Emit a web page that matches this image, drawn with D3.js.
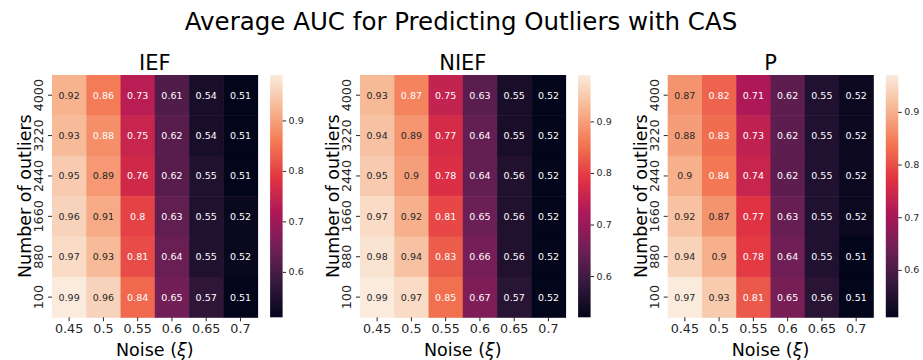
<!DOCTYPE html>
<html>
<head>
<meta charset="utf-8">
<script src="https://cdn.jsdelivr.net/npm/d3@7"></script>
<style>
  body { margin: 0; background: #fff; }
  svg { font-family: "DejaVu Sans", sans-serif; }
</style>
</head>
<body>
<svg id="chart" width="923" height="360"></svg>
<script>
// Data
const noiseLevels = ['0.45', '0.5', '0.55', '0.6', '0.65', '0.7'];
const outlierCounts = ['4000', '3220', '2440', '1660', '880', '100'];
const panelTitles = ['IEF', 'NIEF', 'P'];

const aucIEF = [
  [0.92, 0.86, 0.73, 0.61, 0.54, 0.51],
  [0.93, 0.88, 0.75, 0.62, 0.54, 0.51],
  [0.95, 0.89, 0.76, 0.62, 0.55, 0.51],
  [0.96, 0.91, 0.80, 0.63, 0.55, 0.52],
  [0.97, 0.93, 0.81, 0.64, 0.55, 0.52],
  [0.99, 0.96, 0.84, 0.65, 0.57, 0.51]
];
const aucNIEF = [
  [0.93, 0.87, 0.75, 0.63, 0.55, 0.52],
  [0.94, 0.89, 0.77, 0.64, 0.55, 0.52],
  [0.95, 0.90, 0.78, 0.64, 0.56, 0.52],
  [0.97, 0.92, 0.81, 0.65, 0.56, 0.52],
  [0.98, 0.94, 0.83, 0.66, 0.56, 0.52],
  [0.99, 0.97, 0.85, 0.67, 0.57, 0.52]
];
const aucP = [
  [0.87, 0.82, 0.71, 0.62, 0.55, 0.52],
  [0.88, 0.83, 0.73, 0.62, 0.55, 0.52],
  [0.90, 0.84, 0.74, 0.62, 0.55, 0.52],
  [0.92, 0.87, 0.77, 0.63, 0.55, 0.52],
  [0.94, 0.90, 0.78, 0.64, 0.55, 0.51],
  [0.97, 0.93, 0.81, 0.65, 0.56, 0.51]
];
const cbarTicks = [0.6, 0.7, 0.8, 0.9];

// seaborn "rocket" colormap, approximated by stops
const rocketStops = ['#03051a', '#35193e', '#701f57', '#ad1759', '#e13342', '#f37651', '#f6b48f', '#faebdd'];
const rocket = d3.scaleLinear()
  .domain(d3.range(rocketStops.length).map(i => i / (rocketStops.length - 1)))
  .range(rocketStops)
  .interpolate(d3.interpolateRgb);

function luminance(col) {
  const c = d3.rgb(col);
  const lin = v => {
    v = v / 255;
    return v <= 0.03928 ? v / 12.92 : Math.pow((v + 0.055) / 1.055, 2.4);
  };
  return 0.2126 * lin(c.r) + 0.7152 * lin(c.g) + 0.0722 * lin(c.b);
}

const svg = d3.select('#chart');
const textColor = '#262626';
const fontFam = '"DejaVu Sans", sans-serif';

// Suptitle
svg.append('text')
  .attr('x', 461)
  .attr('y', 30)
  .attr('text-anchor', 'middle')
  .attr('font-size', '24.5px')
  .attr('fill', '#000')
  .text('Average AUC for Predicting Outliers with CAS');

const panelLeft = [52, 360, 667.7];
const plotTop = 75, heatW = 205.6, heatH = 242.3;
const cbarGap = 12.5, cbarW = 12.5;
const datasets = [aucIEF, aucNIEF, aucP];

datasets.forEach((data, p) => {
  const g = svg.append('g').attr('transform', `translate(${panelLeft[p]},${plotTop})`);

  const x = d3.scaleBand().domain(noiseLevels).range([0, heatW]);
  const y = d3.scaleBand().domain(outlierCounts).range([0, heatH]);

  const flat = data.flat();
  const vmin = d3.min(flat), vmax = d3.max(flat);
  const color = v => rocket((v - vmin) / (vmax - vmin));

  const cells = [];
  data.forEach((row, i) => row.forEach((v, j) => cells.push({ row: outlierCounts[i], col: noiseLevels[j], v })));

  g.selectAll('rect.cell')
    .data(cells)
    .enter().append('rect')
    .attr('class', 'cell')
    .attr('x', d => x(d.col))
    .attr('y', d => y(d.row))
    .attr('width', x.bandwidth() + 0.5)
    .attr('height', y.bandwidth() + 0.5)
    .attr('fill', d => color(d.v));

  g.selectAll('text.annot')
    .data(cells)
    .enter().append('text')
    .attr('class', 'annot')
    .attr('x', d => x(d.col) + x.bandwidth() / 2)
    .attr('y', d => y(d.row) + y.bandwidth() / 2)
    .attr('dy', '0.36em')
    .attr('text-anchor', 'middle')
    .attr('font-size', '9.5px')
    .attr('fill', d => luminance(color(d.v)) > 0.408 ? textColor : '#fff')
    .text(d => String(+d.v.toFixed(2)));

  // X axis
  const xAxis = g.append('g')
    .attr('transform', `translate(0,${heatH})`)
    .call(d3.axisBottom(x).tickSize(4).tickPadding(3))
    .attr('font-family', fontFam);
  xAxis.select('.domain').remove();
  xAxis.selectAll('line').attr('stroke', textColor);
  xAxis.selectAll('text').attr('font-size', '12.7px').attr('fill', textColor);

  // Y axis with vertical labels
  const yAxis = g.append('g')
    .call(d3.axisLeft(y).tickSize(4).tickPadding(3))
    .attr('font-family', fontFam);
  yAxis.select('.domain').remove();
  yAxis.selectAll('line').attr('stroke', textColor);
  yAxis.selectAll('text')
    .attr('font-size', '12.7px')
    .attr('fill', textColor)
    .attr('text-anchor', 'middle')
    .attr('x', null)
    .attr('dy', '0.36em')
    .attr('transform', 'translate(-13.3,0) rotate(-90)');

  // Titles and axis labels
  g.append('text')
    .attr('x', heatW / 2)
    .attr('y', -5.5)
    .attr('text-anchor', 'middle')
    .attr('font-size', '21px')
    .attr('fill', '#000')
    .text(panelTitles[p]);

  const xl = g.append('text')
    .attr('x', heatW / 2)
    .attr('y', heatH + 39)
    .attr('text-anchor', 'middle')
    .attr('font-size', '17.5px')
    .attr('fill', '#000');
  xl.append('tspan').text('Noise (');
  xl.append('tspan').attr('font-style', 'italic').text('ξ');
  xl.append('tspan').text(')');

  g.append('text')
    .attr('transform', `translate(-21,${heatH / 2}) rotate(-90)`)
    .attr('text-anchor', 'middle')
    .attr('font-size', '17.5px')
    .attr('fill', '#000')
    .text('Number of outliers');

  // Colorbar
  const gradId = 'grad' + p;
  const grad = svg.append('defs').append('linearGradient')
    .attr('id', gradId)
    .attr('x1', 0).attr('y1', 1).attr('x2', 0).attr('y2', 0);
  d3.range(0, 1.0001, 0.02).forEach(t => {
    grad.append('stop').attr('offset', t).attr('stop-color', rocket(t));
  });

  const cb = g.append('g').attr('transform', `translate(${heatW + cbarGap},0)`);
  cb.append('rect')
    .attr('width', cbarW)
    .attr('height', heatH)
    .attr('fill', `url(#${gradId})`);

  const cScale = d3.scaleLinear().domain([vmin, vmax]).range([heatH, 0]);
  const cAxis = cb.append('g')
    .attr('transform', `translate(${cbarW},0)`)
    .call(d3.axisRight(cScale).tickValues(cbarTicks).tickFormat(d3.format('.1f')).tickSize(3.5).tickPadding(2.5))
    .attr('font-family', fontFam);
  cAxis.select('.domain').remove();
  cAxis.selectAll('line').attr('stroke', textColor);
  cAxis.selectAll('text').attr('font-size', '9.5px').attr('fill', textColor);
});
</script>
</body>
</html>
